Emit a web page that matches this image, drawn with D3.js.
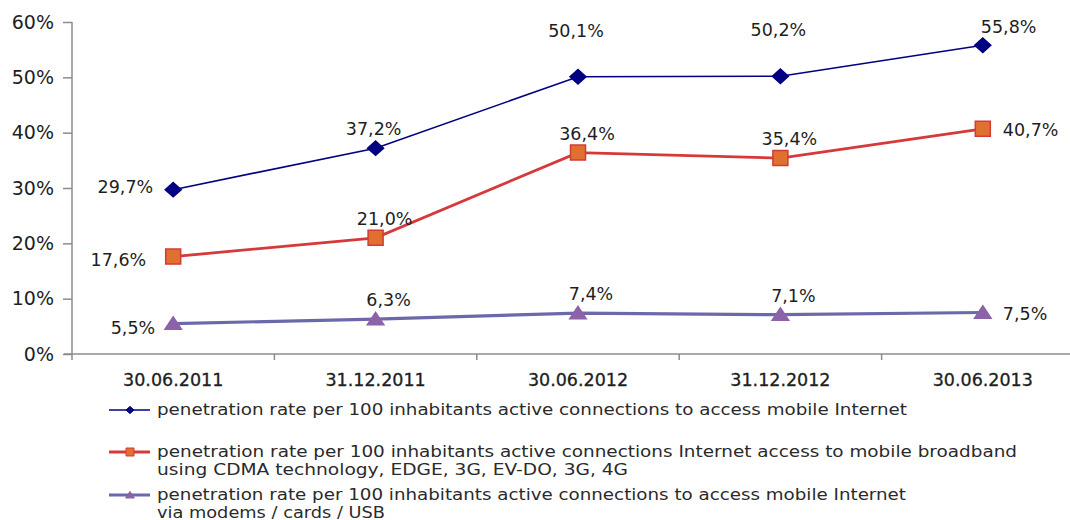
<!DOCTYPE html>
<html>
<head>
<meta charset="utf-8">
<script src="https://cdn.jsdelivr.net/npm/d3@7"></script>
<style>
  body { margin: 0; background: #fff; }
  .axis path, .axis line { stroke: #8c8c8c; stroke-width: 1.5; }
  .axis text { font-family: "DejaVu Sans", Verdana, sans-serif; fill: #1e1e1e; }
</style>
</head>
<body>
<div id="chart"></div>
<script>
// data
const categories = ["30.06.2011", "31.12.2011", "30.06.2012", "31.12.2012", "30.06.2013"];
const mobileInternet = [29.7, 37.2, 50.1, 50.2, 55.8];
const broadband = [17.6, 21.0, 36.4, 35.4, 40.7];
const modems = [5.5, 6.3, 7.4, 7.1, 7.5];
const yTicks = [0, 10, 20, 30, 40, 50, 60];

const legendLabels = [
  ["penetration rate per 100 inhabitants active connections to access mobile Internet"],
  ["penetration rate per 100 inhabitants active connections Internet access to mobile broadband",
   "using CDMA technology, EDGE, 3G, EV-DO, 3G, 4G"],
  ["penetration rate per 100 inhabitants active connections to access mobile Internet",
   "via modems / cards / USB"]
];

// where each value label sits relative to its point
const mobileLabelPos = ["left", "above", "high", "high", "aboveRight"];
const broadbandLabelPos = ["left", "above", "above", "above", "right"];
const modemsLabelPos = ["left", "above", "above", "above", "right"];

const canvWidth = 1070, canvHeight = 520;
const svg = d3.select("#chart").append("svg")
    .attr("width", canvWidth)
    .attr("height", canvHeight);

const plot = {left: 72, right: 1084, top: 22, bottom: 354};

const xScale = d3.scaleBand()
    .domain(categories)
    .range([plot.left, plot.right]);

const yScale = d3.scaleLinear()
    .domain([0, 60])
    .range([plot.bottom, plot.top]);

// y axis
svg.append("g")
    .attr("class", "axis")
    .attr("transform", "translate(" + plot.left + ",0)")
    .call(d3.axisLeft(yScale).tickValues(yTicks).tickSize(9).tickPadding(9)
      .tickFormat(d => d + "%"))
    .call(g => g.select(".domain").attr("d", "M0," + plot.top + "V" + plot.bottom))
    .selectAll("text").style("font-size", "19px");

// x axis (band edges get the ticks, labels sit in the middle)
const xAxis = svg.append("g")
    .attr("class", "axis")
    .attr("transform", "translate(0," + plot.bottom + ")");
xAxis.append("line")
    .attr("x1", plot.left - 8).attr("x2", plot.right)
    .attr("y1", 0).attr("y2", 0);
xAxis.selectAll(".edge")
    .data(categories.concat(["end"]))
    .enter().append("line")
    .attr("class", "edge")
    .attr("x1", (d, i) => plot.left + i * xScale.bandwidth())
    .attr("x2", (d, i) => plot.left + i * xScale.bandwidth())
    .attr("y1", 0).attr("y2", 6);
xAxis.selectAll(".cat")
    .data(categories)
    .enter().append("text")
    .attr("class", "cat")
    .attr("x", d => xScale(d) + xScale.bandwidth() / 2)
    .attr("y", 32)
    .attr("text-anchor", "middle")
    .style("font-size", "17.5px")
    .style("stroke", "#1e1e1e")
    .style("stroke-width", 0.3)
    .text(d => d);

const cx = (d, i) => xScale(categories[i]) + xScale.bandwidth() / 2;

const series = [
  {values: mobileInternet, pos: mobileLabelPos, color: "#000080", width: 1.6, marker: "diamond",
   fill: "#000080", stroke: "#000080", leftDx: -20, leftDy: 3, aboveDx: -2},
  {values: broadband, pos: broadbandLabelPos, color: "#d5393a", width: 2.8, marker: "square",
   fill: "#e0702f", stroke: "#d33b36", leftDx: -27, leftDy: 9, aboveDx: 9},
  {values: modems, pos: modemsLabelPos, color: "#6c69aa", width: 3.2, marker: "triangle",
   fill: "#8c62a8", stroke: "#8c62a8", leftDx: -18, leftDy: 10, aboveDx: 13}
];

function markerPath(type, s) {
  if (type === "diamond") return "M0," + (-s * 0.9) + "L" + s + ",0L0," + (s * 0.9) + "L" + (-s) + ",0Z";
  if (type === "square") return "M" + (-s) + "," + (-s) + "H" + s + "V" + s + "H" + (-s) + "Z";
  return "M0," + (-s * 0.9) + "L" + (s * 1.1) + "," + (s * 0.75) + "H" + (-s * 1.1) + "Z";
}
const markerSize = {diamond: 8, square: 7.5, triangle: 7.5};

const line = d3.line()
    .x(cx)
    .y(d => yScale(d));

series.forEach(s => {
  svg.append("path")
      .datum(s.values)
      .attr("fill", "none")
      .attr("stroke", s.color)
      .attr("stroke-width", s.width)
      .attr("d", line);

  svg.selectAll(null)
      .data(s.values)
      .enter().append("path")
      .attr("transform", (d, i) => "translate(" + cx(d, i) + "," + yScale(d) + ")")
      .attr("d", markerPath(s.marker, markerSize[s.marker]))
      .attr("fill", s.fill)
      .attr("stroke", s.stroke)
      .attr("stroke-width", 1.5);

  svg.selectAll(null)
      .data(s.values)
      .enter().append("text")
      .attr("font-family", "'DejaVu Sans', Verdana, sans-serif")
      .attr("font-size", "17.5px")
      .attr("fill", "#1e1e1e")
      .attr("x", (d, i) => {
        const p = s.pos[i];
        if (p === "left") return cx(d, i) + s.leftDx;
        if (p === "right") return cx(d, i) + 20;
        if (p === "aboveRight") return cx(d, i) - 2;
        return cx(d, i) + s.aboveDx;
      })
      .attr("y", (d, i) => {
        const p = s.pos[i];
        if (p === "left") return yScale(d) + s.leftDy;
        if (p === "right") return yScale(d) + 7;
        if (p === "aboveRight") return yScale(d) - 12;
        if (p === "high") return yScale(d) - 40;
        return yScale(d) - 13;
      })
      .attr("text-anchor", (d, i) => {
        const p = s.pos[i];
        if (p === "left") return "end";
        if (p === "right" || p === "aboveRight") return "start";
        return "middle";
      })
      .text(d => d.toFixed(1).replace(".", ",") + "%");
});

// legend
const legendRows = [415, 457, 500];
const legendRowWidths = [[750], [860, 471], [749, 228]];
const legend = svg.append("g");
series.forEach((s, k) => {
  const y0 = legendRows[k] - 5;
  legend.append("line")
      .attr("x1", 109).attr("x2", 150)
      .attr("y1", y0).attr("y2", y0)
      .attr("stroke", s.color)
      .attr("stroke-width", s.width);
  legend.append("path")
      .attr("transform", "translate(130," + y0 + ")")
      .attr("d", markerPath(s.marker, 4))
      .attr("fill", s.fill)
      .attr("stroke", s.stroke)
      .attr("stroke-width", 1);
  legendLabels[k].forEach((row, j) => {
    legend.append("text")
        .attr("x", 157)
        .attr("y", legendRows[k] + j * 17.5)
        .attr("font-family", "'DejaVu Sans', sans-serif")
        .attr("font-size", "16px")
        .attr("fill", "#2a2a2a")
        .attr("textLength", legendRowWidths[k][j])
        .attr("lengthAdjust", "spacingAndGlyphs")
        .text(row);
  });
});
</script>
</body>
</html>
